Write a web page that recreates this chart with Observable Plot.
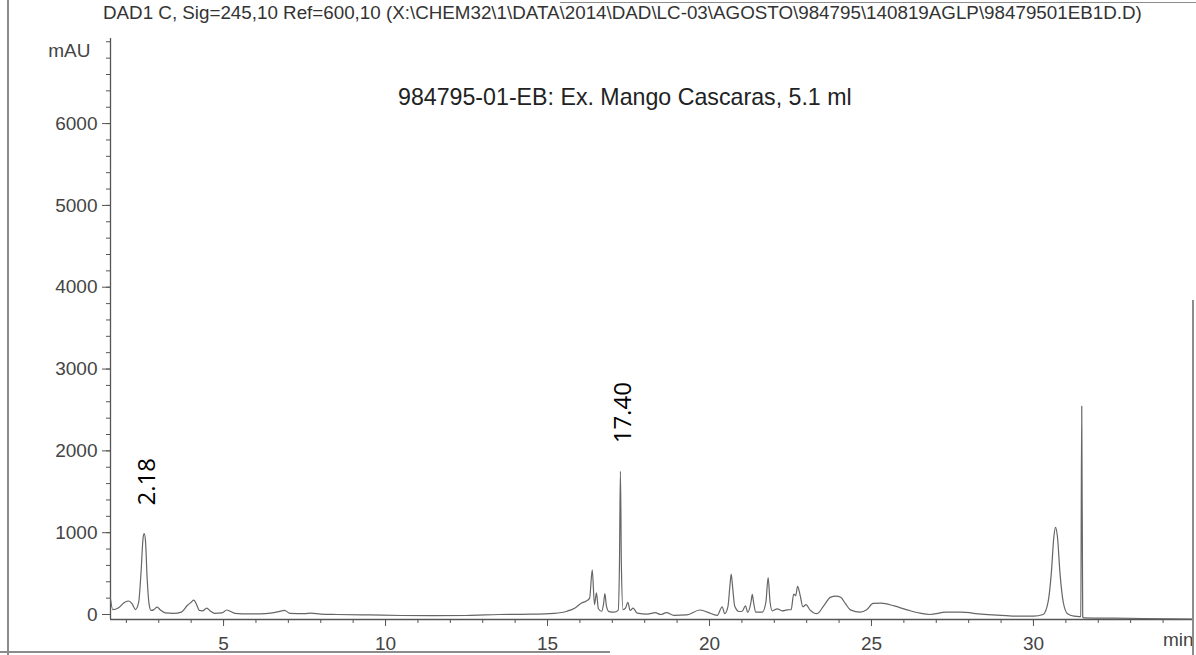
<!DOCTYPE html>
<html>
<head>
<meta charset="utf-8">
<script src="https://cdn.jsdelivr.net/npm/d3@7"></script>
<script src="https://cdn.jsdelivr.net/npm/@observablehq/plot@0.6"></script>
<style>
  body { margin: 0; background: #fff; }
  #page { position: relative; width: 1196px; height: 655px; overflow: hidden;
          font-family: "Liberation Sans", Arial, sans-serif; background: #fff; }
  #title { height: 26px; padding-left: 103px; font-size: 18.8px; line-height: 26px;
           color: #333; white-space: nowrap; }
  #sample { position: absolute; left: 398px; top: 84px; font-size: 23.2px; color: #222;
            white-space: nowrap; }
  .edge { position: absolute; background: #8c8c8c; }
</style>
</head>
<body>
<div id="page">
  <div id="title"></div>
  <div id="chart"></div>
  <div id="sample"></div>
  <div class="edge" style="left:7px; top:0; width:2px; height:655px"></div>
  <div class="edge" style="left:0; top:651px; width:610px; height:2px"></div>
  <div class="edge" style="left:560px; top:2px; width:636px; height:1px"></div>
  <div class="edge" style="left:1192px; top:300px; width:2px; height:355px"></div>
</div>
<script>
// Header texts
const signalTitle = "DAD1 C, Sig=245,10 Ref=600,10 (X:\\CHEM32\\1\\DATA\\2014\\DAD\\LC-03\\AGOSTO\\984795\\140819AGLP\\98479501EB1D.D)";
const sampleTitle = "984795-01-EB: Ex. Mango Cascaras, 5.1 ml";

// Retention time (min) and absorbance (mAU) of the trace
const time = [
  1.51, 1.58, 1.75, 1.95, 2.07, 2.18, 2.28, 2.38, 2.45, 2.52, 2.55, 2.59, 2.64, 2.70, 2.76, 2.85, 2.95, 3.05, 3.20, 3.45,
  3.70, 3.88, 4.00, 4.08, 4.17, 4.25, 4.35, 4.48, 4.60, 4.72, 4.95, 5.10, 5.20, 5.35, 5.80, 6.30, 6.70, 6.88, 7.05, 7.50,
  7.70, 8.00, 8.50, 9.50, 10.5, 11.5, 12.5, 13.5, 14.5, 15.2, 15.6, 15.85, 16.05, 16.2, 16.3, 16.38, 16.45, 16.51, 16.57, 16.67,
  16.73, 16.77, 16.82, 16.9, 17.05, 17.18, 17.22, 17.25, 17.28, 17.33, 17.41, 17.48, 17.55, 17.64, 17.77, 18.08, 18.33, 18.49, 18.67, 18.9,
  19.3, 19.7, 19.93, 20.24, 20.39, 20.47, 20.57, 20.63, 20.67, 20.71, 20.78, 20.91, 21.01, 21.11, 21.18, 21.28, 21.32, 21.36, 21.43, 21.63,
  21.74, 21.81, 21.87, 21.94, 22.09, 22.24, 22.4, 22.52, 22.6, 22.66, 22.72, 22.8, 22.88, 22.98, 23.1, 23.32, 23.53, 23.73, 23.9, 24.05,
  24.2, 24.35, 24.66, 24.85, 25.05, 25.3, 25.7, 26.1, 26.5, 26.8, 27.3, 27.75, 28.4, 29.0, 29.5, 30.0, 30.3, 30.45, 30.55, 30.63,
  30.68, 30.74, 30.82, 30.92, 31.05, 31.25, 31.42, 31.46, 31.49, 31.52, 31.57, 32.5, 34.94
];
const absorbance = [
  190, 60, 80, 150, 165, 130, 60, 150, 500, 950, 990, 900, 450, 130, 50, 60, 90, 55, 20, 15,
  30, 110, 150, 175, 120, 50, 45, 78, 40, 15, 20, 55, 40, 15, 8, 12, 35, 50, 15, 10,
  18, 5, 0, -5, -12, -14, -12, 0, 4, 15, 40, 80, 140, 165, 200, 545, 120, 265, 70, 40,
  130, 255, 100, 35, 28, 50, 600, 1750, 600, 60, 80, 150, 50, 78, 16, 5, 22, 0, 22, -10,
  -5, 55, 30, -10, 95, 10, 100, 350, 495, 350, 100, 37, 40, 105, 25, 150, 245, 150, 28, 28,
  150, 450, 150, 45, 70, 45, 57, 60, 250, 230, 345, 230, 95, 120, 57, 10, 110, 210, 225, 210,
  130, 57, 28, 57, 135, 140, 105, 57, 16, 0, 28, 28, 4, -10, -20, -20, 0, 150, 500, 950,
  1065, 950, 500, 150, 10, -20, -25, -20, 2546, -30, -40, -45, -55
];

// Axis extents and ticks
const timeDomain = [1.51, 34.94];
const absDomain = [-61, 7040];
const timeMajor = [5, 10, 15, 20, 25, 30];
const timeMinor = d3.range(2, 35, 1);
const absMajor = [0, 1000, 2000, 3000, 4000, 5000, 6000];
const absMinor = d3.range(0, 7001, 200);

// Peak annotations: labelled retention times
const peakText = ["2.18", "17.40"];
const peakRt = [2.18, 17.40];

const trace = time.map((t, i) => ({time: t, value: absorbance[i]}));

// Each label sits over the tallest point within half a minute of its retention time
const peaks = peakText.map((label, i) => {
  const near = trace.filter(d => Math.abs(d.time - peakRt[i]) <= 0.5);
  const apex = d3.greatest(near, d => d.value);
  return {label, time: apex.time, value: apex.value};
});

document.getElementById("title").textContent = signalTitle;
document.getElementById("sample").textContent = sampleTitle;

const chart = Plot.plot({
  width: 1196,
  height: 629,
  marginLeft: 110,
  marginRight: 3,
  marginTop: 12,
  marginBottom: 36,
  x: {domain: timeDomain},
  y: {domain: absDomain},
  style: {fontFamily: "'Liberation Sans', Arial, sans-serif", fontSize: "19px", color: "#444", background: "transparent"},
  marks: [
    Plot.ruleX([timeDomain[0]], {stroke: "#555", strokeWidth: 1.3}),
    Plot.ruleY([absDomain[0]], {stroke: "#555", strokeWidth: 1.3}),
    Plot.axisY(absMajor, {tickSize: 8, tickPadding: 5, tickFormat: "d", label: null, stroke: "#555"}),
    Plot.axisY(absMinor, {tickSize: 4, text: null, label: null, stroke: "#555"}),
    Plot.axisX(timeMajor, {tickSize: 7, tickPadding: 10, tickFormat: "d", label: null, stroke: "#555"}),
    Plot.axisX(timeMinor, {tickSize: 4, text: null, label: null, stroke: "#555"}),
    Plot.text(["mAU"], {frameAnchor: "top-left", dx: -20, dy: 5, textAnchor: "end", fill: "#444"}),
    Plot.text(["min"], {frameAnchor: "bottom-right", dy: 26, textAnchor: "end", fill: "#444"}),
    Plot.line(trace, {x: "time", y: "value", curve: "monotone-x", stroke: "#666", strokeWidth: 1.2}),
    Plot.text(peaks, {x: "time", y: "value", text: "label", rotate: -90, textAnchor: "start",
                      dx: 3, dy: -28, fontSize: 24, fontFamily: "'Open Sans', sans-serif", fill: "#000"})
  ]
});
document.getElementById("chart").appendChild(chart);
</script>
</body>
</html>
